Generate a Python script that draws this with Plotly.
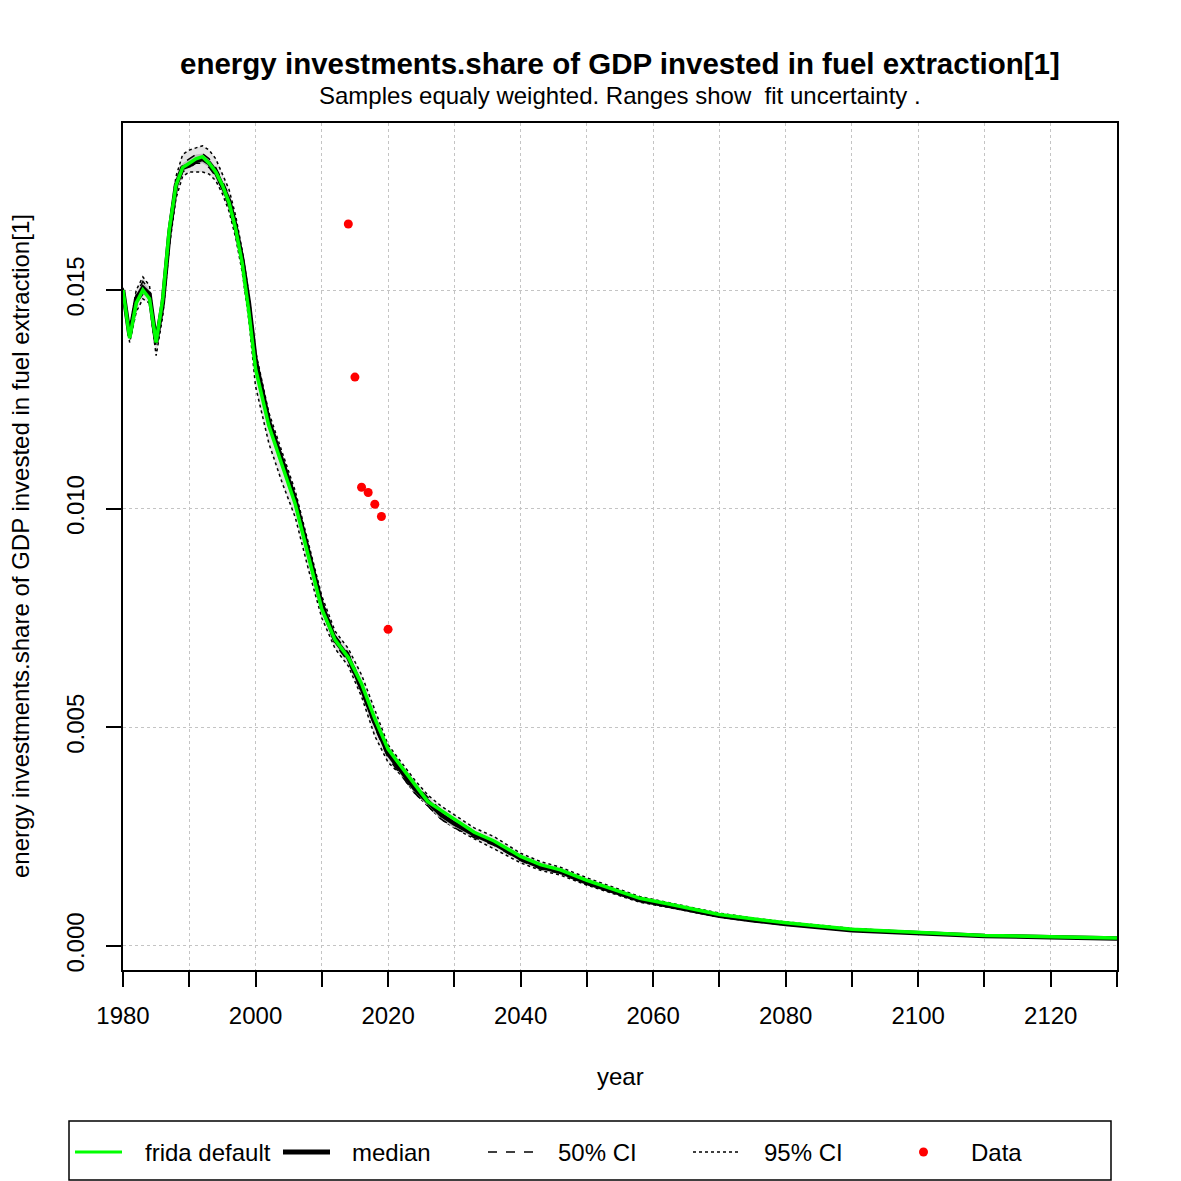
import plotly.graph_objects as go

# values
years = [1980, 1981, 1982, 1983, 1984, 1985, 1986, 1987, 1988, 1989,
         1990, 1991, 1992, 1993, 1994, 1995, 1996, 1997, 1998, 1999,
         2000, 2002, 2004, 2006, 2008, 2010, 2012, 2014, 2016, 2018,
         2020, 2022, 2024, 2026, 2028, 2030, 2033, 2036, 2040, 2043,
         2046, 2050, 2054, 2058, 2062, 2066, 2070, 2075, 2080, 2090,
         2100, 2110, 2120, 2130]

frida_default = [0.0150, 0.0139, 0.0147, 0.0150, 0.0148, 0.0138, 0.0148, 0.0164, 0.0174, 0.0178,
                 0.0179, 0.0180, 0.01805, 0.0179, 0.0177, 0.0174, 0.0170, 0.0164, 0.0156, 0.0145,
                 0.0132, 0.0119, 0.0110, 0.0101, 0.0089, 0.0077, 0.0070, 0.0066, 0.0060, 0.0052,
                 0.0045, 0.0041, 0.0037, 0.0033, 0.0031, 0.0029, 0.0026, 0.0024, 0.00205, 0.00186,
                 0.00174, 0.00150, 0.00129, 0.00109, 0.00097, 0.00084, 0.00072, 0.00062, 0.00053, 0.00038,
                 0.00030, 0.00024, 0.00021, 0.00018]

median = [0.0150, 0.01395, 0.0148, 0.01505, 0.0149, 0.0138, 0.0147, 0.0163, 0.0174, 0.0178,
          0.01785, 0.01795, 0.0180, 0.0179, 0.0177, 0.0174, 0.01705, 0.01645, 0.0157, 0.0147,
          0.0134, 0.0120, 0.0111, 0.0102, 0.0090, 0.0078, 0.0070, 0.0066, 0.0059, 0.0051,
          0.0044, 0.0040, 0.0036, 0.0033, 0.0030, 0.0028, 0.00255, 0.00235, 0.0020, 0.00181,
          0.0017, 0.00145, 0.00125, 0.00105, 0.00093, 0.0008, 0.00069, 0.00059, 0.0005, 0.00036,
          0.00029, 0.00023, 0.0002, 0.00017]

ci50_hi = [0.01502, 0.01405, 0.0149, 0.0152, 0.0150, 0.01385, 0.0148, 0.0164, 0.0175, 0.0179,
           0.0180, 0.0181, 0.01812, 0.0180, 0.0178, 0.0175, 0.01715, 0.01655, 0.0158, 0.0148,
           0.0135, 0.0121, 0.0112, 0.0103, 0.0091, 0.0079, 0.0071, 0.0067, 0.0060, 0.0052,
           0.0045, 0.0041, 0.0037, 0.0034, 0.0031, 0.0029, 0.00262, 0.0024, 0.00205, 0.00186,
           0.00174, 0.00149, 0.00128, 0.00108, 0.00095, 0.00082, 0.00071, 0.0006, 0.00051, 0.00037,
           0.00029, 0.00023, 0.0002, 0.00017]

ci50_lo = [0.01498, 0.01385, 0.0147, 0.0149, 0.0148, 0.01372, 0.0146, 0.0162, 0.0173, 0.0177,
           0.0178, 0.0179, 0.0179, 0.0178, 0.0176, 0.0173, 0.0169, 0.0163, 0.0156, 0.0146,
           0.0133, 0.0119, 0.0110, 0.0101, 0.0089, 0.0077, 0.0069, 0.0065, 0.0058, 0.0050,
           0.0043, 0.0039, 0.0035, 0.0032, 0.0029, 0.0027, 0.00248, 0.0023, 0.00195, 0.00176,
           0.00166, 0.00141, 0.00122, 0.00102, 0.00091, 0.00078, 0.00067, 0.00058, 0.00049, 0.00035,
           0.00028, 0.00022, 0.00019, 0.00016]

ci95_hi = [0.01505, 0.0141, 0.0150, 0.0153, 0.0151, 0.0139, 0.0149, 0.0165, 0.0176, 0.0181,
           0.0182, 0.01825, 0.0183, 0.0182, 0.0180, 0.01765, 0.0173, 0.0167, 0.0159, 0.0149,
           0.0136, 0.0122, 0.0113, 0.0104, 0.0092, 0.0080, 0.0072, 0.0068, 0.0062, 0.0054,
           0.0046, 0.0042, 0.0038, 0.00345, 0.0032, 0.0030, 0.0027, 0.0025, 0.00212, 0.00193,
           0.0018, 0.00156, 0.00134, 0.00113, 0.0010, 0.00087, 0.00075, 0.00064, 0.00055, 0.0004,
           0.00031, 0.00025, 0.00021, 0.00018]

ci95_lo = [0.01495, 0.0138, 0.0145, 0.0148, 0.0147, 0.0135, 0.0144, 0.0160, 0.0171, 0.0176,
           0.0177, 0.0177, 0.0177, 0.01765, 0.0175, 0.0172, 0.0168, 0.0162, 0.0154, 0.0143,
           0.0128, 0.0115, 0.0106, 0.0098, 0.0086, 0.0075, 0.0068, 0.0064, 0.0057, 0.0048,
           0.0042, 0.0039, 0.0035, 0.0032, 0.0029, 0.0027, 0.00245, 0.00222, 0.0019, 0.00173,
           0.00162, 0.00139, 0.00119, 0.0010, 0.00089, 0.00077, 0.00066, 0.00056, 0.00048, 0.00035,
           0.00028, 0.00022, 0.00019, 0.00016]

data_years = [2014, 2015, 2016, 2017, 2018, 2019, 2020]
data_values = [0.01651, 0.01301, 0.01049, 0.01037, 0.0101, 0.00982, 0.00724]

x_ticks = list(range(1980, 2131, 10))
x_labels = [str(v) if v % 20 == 0 else "" for v in x_ticks]
y_ticks = [0.0, 0.005, 0.010, 0.015]
y_labels = ["0.000", "0.005", "0.010", "0.015"]

FONT = "Liberation Sans, Arial, Helvetica, sans-serif"

# plot box in pixels, used for text and legend placement
L, R, T, B = 123, 1117, 123, 970


def px(x):
    return (x - L) / (R - L)


def py(y):
    return (B - y) / (B - T)


fig = go.Figure()

# 95% band
fig.add_trace(go.Scatter(x=years, y=ci95_lo, mode="lines",
                         line=dict(color="black", width=1.5, dash="dot"),
                         showlegend=False, hoverinfo="skip"))
fig.add_trace(go.Scatter(x=years, y=ci95_hi, mode="lines", fill="tonexty",
                         fillcolor="#e3e3e3",
                         line=dict(color="black", width=1.5, dash="dot"),
                         showlegend=False, hoverinfo="skip"))
# 50% band
fig.add_trace(go.Scatter(x=years, y=ci50_lo, mode="lines",
                         line=dict(color="black", width=1.5, dash="dash"),
                         showlegend=False, hoverinfo="skip"))
fig.add_trace(go.Scatter(x=years, y=ci50_hi, mode="lines", fill="tonexty",
                         fillcolor="#bdbdbd",
                         line=dict(color="black", width=1.5, dash="dash"),
                         showlegend=False, hoverinfo="skip"))

fig.add_trace(go.Scatter(x=years, y=median, mode="lines", name="median",
                         line=dict(color="black", width=4.5), showlegend=False))
fig.add_trace(go.Scatter(x=years, y=frida_default, mode="lines", name="frida default",
                         line=dict(color="#00ff00", width=3.5), showlegend=False))
fig.add_trace(go.Scatter(x=data_years, y=data_values, mode="markers", name="Data",
                         marker=dict(color="#ff0000", size=9), showlegend=False))

axis_common = dict(
    showline=True, linecolor="black", linewidth=1.5, mirror=True,
    ticks="outside", ticklen=15, tickwidth=1.5, tickcolor="black",
    showgrid=True, gridcolor="#c4c4c4", gridwidth=1, griddash="dot",
    zeroline=False, tickfont=dict(family=FONT, size=24, color="black"),
)

fig.update_xaxes(range=[1980, 2130], tickmode="array", tickvals=x_ticks, ticktext=x_labels,
                 ticklabelstandoff=8, **axis_common)
fig.update_yaxes(range=[-0.00055, 0.01882], tickmode="array", tickvals=y_ticks, ticktext=y_labels,
                 tickangle=-90, ticklabelstandoff=13, **axis_common)

annotations = [
    dict(text="<b>energy investments.share of GDP invested in fuel extraction[1]</b>",
         x=px(620), y=py(63), font=dict(size=29.5)),
    dict(text="Samples equaly weighted. Ranges show  fit uncertainty .",
         x=px(620), y=py(95), font=dict(size=24)),
    dict(text="year", x=px(620), y=py(1076), font=dict(size=24)),
    dict(text="energy investments.share of GDP invested in fuel extraction[1]",
         x=px(20), y=py(546), textangle=-90, font=dict(size=24)),
]

# legend drawn by hand, laid out like the R legend box
legend_y = 1152
legend_text = [("frida default", 143), ("median", 350), ("50% CI", 556),
               ("95% CI", 762), ("Data", 969)]
for label, x0 in legend_text:
    annotations.append(dict(text=label, x=px(x0), y=py(legend_y), xanchor="left",
                            font=dict(size=24)))

for a in annotations:
    a.setdefault("xanchor", "center")
    a.update(xref="paper", yref="paper", yanchor="middle", showarrow=False)
    a["font"].update(family=FONT, color="black")

shapes = [
    dict(type="rect", x0=px(69), x1=px(1111), y0=py(1121), y1=py(1180),
         line=dict(color="black", width=1.5), fillcolor="white"),
    dict(type="line", x0=px(75), x1=px(122), y0=py(legend_y), y1=py(legend_y),
         line=dict(color="#00ff00", width=3)),
    dict(type="line", x0=px(283), x1=px(330), y0=py(legend_y), y1=py(legend_y),
         line=dict(color="black", width=5)),
    dict(type="line", x0=px(488), x1=px(534), y0=py(legend_y), y1=py(legend_y),
         line=dict(color="black", width=1.5, dash="dash")),
    dict(type="line", x0=px(693), x1=px(740), y0=py(legend_y), y1=py(legend_y),
         line=dict(color="black", width=1.5, dash="dot")),
    dict(type="circle", x0=px(919), x1=px(928), y0=py(1147.5), y1=py(1156.5),
         line=dict(color="#ff0000", width=0), fillcolor="#ff0000"),
]
for s in shapes:
    s.update(xref="paper", yref="paper")

fig.update_layout(
    width=1181, height=1181,
    margin=dict(l=L, r=1181 - R, t=T, b=1181 - B),
    paper_bgcolor="white", plot_bgcolor="white",
    showlegend=False,
    annotations=annotations, shapes=shapes,
    font=dict(family=FONT, size=24, color="black"),
)

# drop the default page margin so the figure fills the window exactly
fig.write_html("out.html", config={"displayModeBar": False},
               post_script="document.body.style.margin='0';")
